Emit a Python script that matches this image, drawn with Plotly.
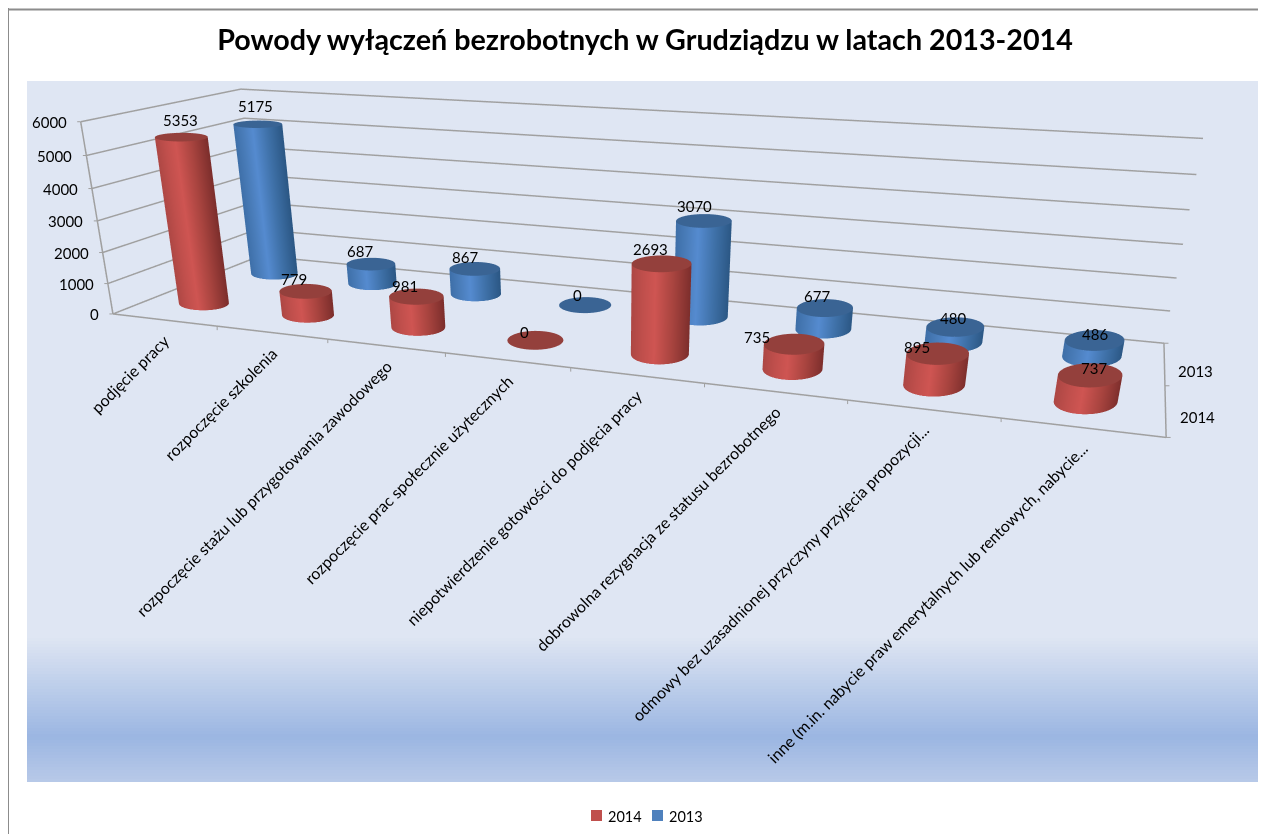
import numpy as np
import plotly.graph_objects as go

categories = ["podjęcie pracy", "rozpoczęcie szkolenia", "rozpoczęcie stażu lub przygotowania zawodowego",
              "rozpoczęcie prac społecznie użytecznych", "niepotwierdzenie gotowości do podjęcia pracy",
              "dobrowolna rezygnacja ze statusu bezrobotnego", "odmowy bez uzasadnionej przyczyny przyjęcia propozycji...",
              "inne (m.in. nabycie praw emerytalnych lub rentowych, nabycie..."]
values_2014 = [5353, 779, 981, 0, 2693, 735, 895, 737]
values_2013 = [5175, 687, 867, 0, 3070, 677, 480, 486]
series_names = ["2014", "2013"]
value_ticks = [0, 1000, 2000, 3000, 4000, 5000, 6000]

# label nudges (pixels), layout only
label_dx_2014 = [-1, -12, -11, -11, -11, -37, -21, 4]
label_dy_2014 = [6, 1, 0, -3, 4, -4, -5, -4]
label_dx_2013 = [-2, -11, -10, -8, -9, -8, -2, 0]
label_dy_2013 = [7, 2, 1, -1, 4, 1, -2, -5]

FW, FH = 1258, 1100   # the lens of the original needs a tall scene; only the top 826 px are in the window
SW = 1195
AX, AY, AZ = 3.0, 0.7913, 0.5617
EYE = np.array([1.2808, -3.5841, 0.8416])
CENTER = np.array([0.1763, -0.6021, -0.7270])
UP = np.array([-0.0036, -0.0092, 1.0])

def to_screen(D):
    """Where a data point lands in the window; used only to keep the cylinder caps level on screen."""
    f = CENTER - EYE; f = f / np.linalg.norm(f)
    r = np.cross(f, UP); r = r / np.linalg.norm(r)
    u = np.cross(r, f)
    m = np.array([(D[0] / 8 - .5) * AX, (D[1] / 2 - .5) * AY, (D[2] / 6000 - .5) * AZ]) - EYE
    d = m @ f
    F = FH / 2 / np.tan(np.pi / 8)
    return np.array([F * (m @ r) / d, -F * (m @ u) / d])

theta = np.linspace(0, 2 * np.pi, 73)
NOLIGHT = dict(ambient=1, diffuse=0, specular=0, roughness=1, fresnel=0)
fig = go.Figure()

def cyl(cx, cy, v, cs, cap, A, B):
    d = 1e-3
    b0 = to_screen((cx, cy, 0.))
    jx = (to_screen((cx + d, cy, 0.)) - b0) / d
    jy = (to_screen((cx, cy + d, 0.)) - b0) / d
    ox, oy = np.linalg.inv(np.c_[jx, jy]) @ np.vstack([A * np.cos(theta), B * np.sin(theta)])
    zs = np.array([0, max(v, 1)], float)
    fig.add_trace(go.Surface(x=cx + np.outer(ox, [1, 1]), y=cy + np.outer(oy, [1, 1]),
                             z=np.outer(np.ones_like(theta), zs),
                             surfacecolor=np.outer(-np.cos(theta), [1, 1]), cmin=-1, cmax=1, colorscale=cs,
                             showscale=False, lighting=NOLIGHT, hoverinfo="skip", showlegend=False))
    rr = np.array([0, 1.0])
    fig.add_trace(go.Surface(x=cx + np.outer(ox, rr), y=cy + np.outer(oy, rr), z=np.full((73, 2), zs[1]),
                             surfacecolor=np.zeros((73, 2)), cmin=0, cmax=1, colorscale=[[0, cap], [1, cap]],
                             showscale=False, lighting=NOLIGHT, hoverinfo="skip", showlegend=False))

RED = [[0, "#7c2e2c"], [0.3, "#a8443f"], [0.6, "#cf5552"], [0.8, "#c04f4c"], [1, "#ad4744"]]
BLUE = [[0, "#2b5784"], [0.3, "#3f71a8"], [0.6, "#558bd0"], [0.8, "#4a7dba"], [1, "#3e6fa8"]]
for i in range(len(categories)):
    A = 25 + i
    B = 7 + .8 * i
    cyl(i + .5, 1.5, values_2013[i], BLUE, "#3a6494", A * .93, B * .85)
    cyl(i + .5, .5, values_2014[i], RED, "#94403c", A, B)

LINE = "#a0a0a0"
def seg(xs, ys, zs):
    fig.add_trace(go.Scatter3d(x=xs, y=ys, z=zs, mode="lines", line=dict(color=LINE, width=3),
                               hoverinfo="skip", showlegend=False))
seg([0, 8, 8], [0, 0, 2], [0, 0, 0])
seg([0, 0], [0, 0], [0, 6000])
seg([0, 0, 8], [0, 2, 2], [0, 0, 0])

F = "Lato"
TS = 15
BLACK = dict(family=F, size=TS, color="black")
anns = [dict(x=i + .5, y=0, z=0, text=c, showarrow=False, textangle=-45, xanchor="right", yanchor="top",
             yshift=-8, xshift=12, font=dict(family=F, size=16, color="black")) for i, c in enumerate(categories)]
anns += [dict(x=0, y=0, z=t, text=str(t), showarrow=False, xanchor="right", xshift=-12, font=BLACK) for t in value_ticks]
anns += [dict(x=8, y=.5 + j, z=0, text=n, showarrow=False, xanchor="left", xshift=12, yshift=-7, font=BLACK)
         for j, n in enumerate(series_names)]
for vals, yy, dxs, dys in ((values_2014, .5, label_dx_2014, label_dy_2014), (values_2013, 1.5, label_dx_2013, label_dy_2013)):
    anns += [dict(x=i + .5, y=yy, z=v, text=str(v), showarrow=False, yanchor="bottom", yshift=dys[i], xshift=dxs[i], font=BLACK)
             for i, v in enumerate(vals)]
TICK = dict(text=" ", showarrow=True, arrowhead=0, arrowwidth=1, arrowcolor=LINE, font=dict(size=1))
anns += [dict(x=i, y=0, z=0, ax=0, ay=6, **TICK) for i in range(1, 8)]
anns += [dict(x=8, y=j, z=0, ax=6, ay=0, **TICK) for j in range(3)]
anns += [dict(x=0, y=0, z=t, ax=-5, ay=0, **TICK) for t in value_ticks]

px = lambda X: (X - 8) / FW
py = lambda Y: 1 - (Y - 8) / FH
def mix(a, b, t):
    return "#%02x%02x%02x" % tuple(int(round(a[k] + (b[k] - a[k]) * t)) for k in range(3))
C0, C1, C2 = (0xdf, 0xe6, 0xf3), (0x9b, 0xb6, 0xe2), (0xb8, 0xc9, 0xe8)
shapes = [dict(type="rect", xref="paper", yref="paper", x0=px(27), x1=px(1260), y0=py(81), y1=py(635),
               fillcolor=mix(C0, C0, 0), line_width=0, layer="below")]
for Y in range(635, 780, 3):
    c = mix(C0, C1, (Y - 635) / 100) if Y < 735 else mix(C1, C2, (Y - 735) / 45)
    shapes.append(dict(type="rect", xref="paper", yref="paper", x0=px(27), x1=px(1260), y0=py(Y), y1=py(Y + 3),
                       fillcolor=c, line_width=0, layer="below"))
shapes.append(dict(type="line", xref="paper", yref="paper", x0=0, x1=0, y0=0, y1=1,
                   line=dict(color="#8c8c8c", width=2), layer="below"))
shapes.append(dict(type="line", xref="paper", yref="paper", x0=0, x1=1, y0=py(9.5), y1=py(9.5),
                   line=dict(color="#8c8c8c", width=2), layer="below"))
paper_anns = []
for name, c, sx in zip(series_names, ["#c0504d", "#4f81bd"], [591, 652]):
    shapes.append(dict(type="rect", xref="paper", yref="paper", x0=px(sx), x1=px(sx + 11), y0=py(810), y1=py(821),
                       fillcolor=c, line_width=0))
    paper_anns.append(dict(x=px(sx + 15), y=py(816), xref="paper", yref="paper", xanchor="left", yanchor="middle",
                           showarrow=False, text=name, font=dict(family=F, size=14.5, color="black")))

AXIS = dict(showgrid=False, zeroline=False, showticklabels=False, ticks="", title="", showbackground=False,
            showspikes=False, showline=False)
fig.update_layout(
    width=FW, height=FH, margin=dict(l=0, r=0, t=0, b=0), paper_bgcolor="white", plot_bgcolor="rgba(0,0,0,0)",
    showlegend=False,
    title=dict(text="<b>Powody wyłączeń bezrobotnych w Grudziądzu w latach 2013-2014</b>", x=(645 - 8) / FW,
               xanchor="center", y=py(40), yanchor="middle", font=dict(family=F, size=28.7, color="black")),
    shapes=shapes, annotations=paper_anns,
    scene=dict(
        domain=dict(x=[0, SW / FW], y=[0, 1]), aspectmode="manual", aspectratio=dict(x=AX, y=AY, z=AZ),
        camera=dict(eye=dict(x=EYE[0], y=EYE[1], z=EYE[2]), center=dict(x=CENTER[0], y=CENTER[1], z=CENTER[2]),
                    up=dict(x=UP[0], y=UP[1], z=UP[2])),
        bgcolor="rgba(0,0,0,0)",
        xaxis=dict(range=[0, 8], **AXIS),
        yaxis=dict(range=[0, 2], **AXIS),
        zaxis=dict(range=[0, 6000], tickvals=value_ticks, showgrid=True, gridcolor=LINE, gridwidth=3, zeroline=False,
                   showticklabels=False, ticks="", title="", showbackground=False, showspikes=False, showline=False),
        annotations=anns))
fig.write_html("out.html")
